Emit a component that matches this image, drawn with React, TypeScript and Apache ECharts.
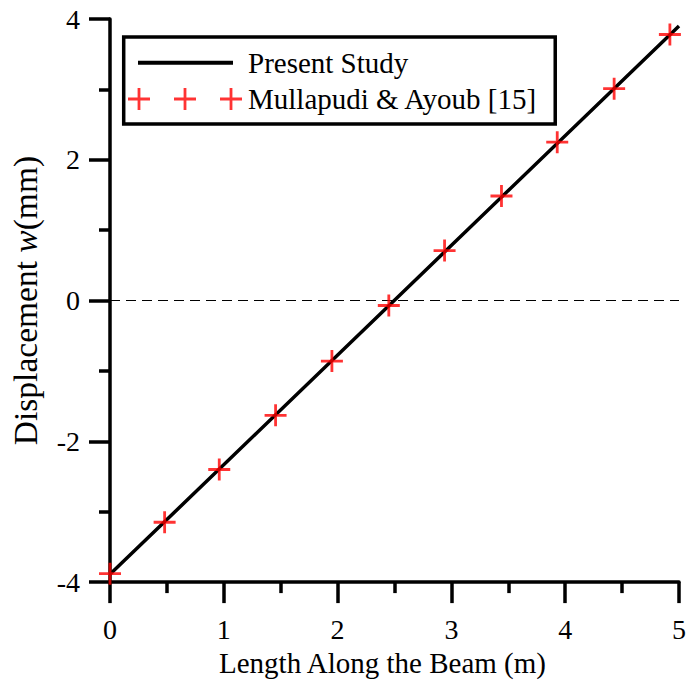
import React, { useEffect, useRef } from 'react';
import * as echarts from 'echarts';

// ---- data ----
const presentX = [0, 2.5, 5];
const presentY = [-3.89, 0.005, 3.9];
const refX = [0, 0.48, 0.96, 1.455, 1.95, 2.45, 2.94, 3.44, 3.93, 4.43, 4.92];
const refY = [-3.88, -3.15, -2.4, -1.63, -0.86, -0.07, 0.71, 1.485, 2.25, 3.01, 3.78];
const seriesNames = ['Present Study', 'Mullapudi & Ayoub [15]'];
const xAxisTitle = 'Length Along the Beam (m)';
const yAxisTitleParts = ['Displacement ', 'w', '(mm)'];

const FONT = '"Liberation Serif", "Times New Roman", serif';
const FS = 29;
const TICK_FS = 28;
const YTITLE_FS = 33.5;

const PLUS = 'path://M0,9.6h22v2.8h-22z M9.6,0h2.8v22h-2.8z';
const plusAt = (cx: number) => `M${cx - 11},9.6h22v2.8h-22z M${cx - 1.4},0h2.8v22h-2.8z`;
const LEGEND_PLUS = 'path://' + [11, 57, 103].map(plusAt).join(' ') + ' M114.9,21.9h0.1v0.1h-0.1z';
const LEGEND_LINE = 'path://M10,9h95v4h-95z M0,0h0.1v0.1h-0.1z M114.9,21.9h0.1v0.1h-0.1z';

export default function App() {
  const ref = useRef<HTMLDivElement>(null);
  useEffect(() => {
    document.body.style.margin = '0';
    const chart = echarts.init(ref.current!, null, { renderer: 'svg' });
    const axisCommon = {
      axisLine: { show: true, onZero: false, lineStyle: { color: '#000', width: 3.5 } },
      axisTick: { show: true, inside: false, length: 21, lineStyle: { color: '#000', width: 3.5 } },
      minorTick: { show: true, splitNumber: 2, length: 11, lineStyle: { color: '#000', width: 3.5 } },
      splitLine: { show: false },
      minorSplitLine: { show: false },
    };
    chart.setOption({
      animation: false,
      backgroundColor: '#fff',
      textStyle: { fontFamily: FONT },
      grid: { left: 110, right: 6, top: 19, bottom: 94, containLabel: false },
      legend: {
        show: true,
        orient: 'vertical',
        left: 123.7,
        top: 37,
        padding: [11.2, 17.5, 10.5, 4.3],
        itemGap: 7.3,
        itemWidth: 115,
        itemHeight: 22,
        borderColor: '#000',
        borderWidth: 3.5,
        backgroundColor: '#fff',
        selectedMode: false,
        itemStyle: { borderWidth: 0 },
        textStyle: { fontFamily: FONT, fontSize: FS, color: '#000', lineHeight: 29 },
        data: [
          { name: seriesNames[0], icon: LEGEND_LINE, itemStyle: { color: '#000', borderWidth: 0 } },
          { name: seriesNames[1], icon: LEGEND_PLUS, itemStyle: { color: '#ff0000', borderWidth: 0 } },
        ],
      },
      xAxis: {
        ...axisCommon,
        type: 'value',
        min: 0,
        max: 5,
        interval: 1,
        name: xAxisTitle,
        nameLocation: 'middle',
        nameGap: 60,
        nameTextStyle: { fontFamily: FONT, fontSize: FS, color: '#000', padding: [0, 24, 0, 0] },
        axisLabel: { fontFamily: FONT, fontSize: TICK_FS, color: '#000', margin: 33 },
      },
      yAxis: {
        ...axisCommon,
        type: 'value',
        min: -4,
        max: 4,
        interval: 2,
        name: `{a|${yAxisTitleParts[0]}}{b|${yAxisTitleParts[1]}}{a|${yAxisTitleParts[2]}}`,
        nameLocation: 'middle',
        nameGap: 68,
        nameTextStyle: {
          fontFamily: FONT,
          fontSize: YTITLE_FS,
          color: '#000',
          rich: {
            a: { fontFamily: FONT, fontSize: YTITLE_FS, color: '#000' },
            b: { fontFamily: FONT, fontSize: YTITLE_FS, color: '#000', fontStyle: 'italic' },
          },
        },
        axisLabel: { fontFamily: FONT, fontSize: TICK_FS, color: '#000', margin: 30 },
      },
      series: [
        {
          name: seriesNames[0],
          type: 'line',
          data: presentX.map((x, i) => [x, presentY[i]]),
          symbol: 'none',
          color: '#000',
          itemStyle: { color: '#000' },
          lineStyle: { color: '#000', width: 3.5 },
          z: 3,
          markLine: {
            silent: true,
            symbol: ['none', 'none'],
            label: { show: false },
            lineStyle: { color: '#000', width: 1, type: [10, 6] },
            data: [{ yAxis: 0 }],
            z: 1,
          },
        },
        {
          name: seriesNames[1],
          type: 'scatter',
          data: refX.map((x, i) => [x, refY[i]]),
          symbol: PLUS,
          symbolSize: 22,
          itemStyle: { color: '#ff0000', borderWidth: 0 },
          z: 4,
        },
      ],
    });
    return () => chart.dispose();
  }, []);
  return (
    <div
      ref={ref}
      style={{ position: 'absolute', left: 0, top: 0, width: 689, height: 682 }}
    />
  );
}
